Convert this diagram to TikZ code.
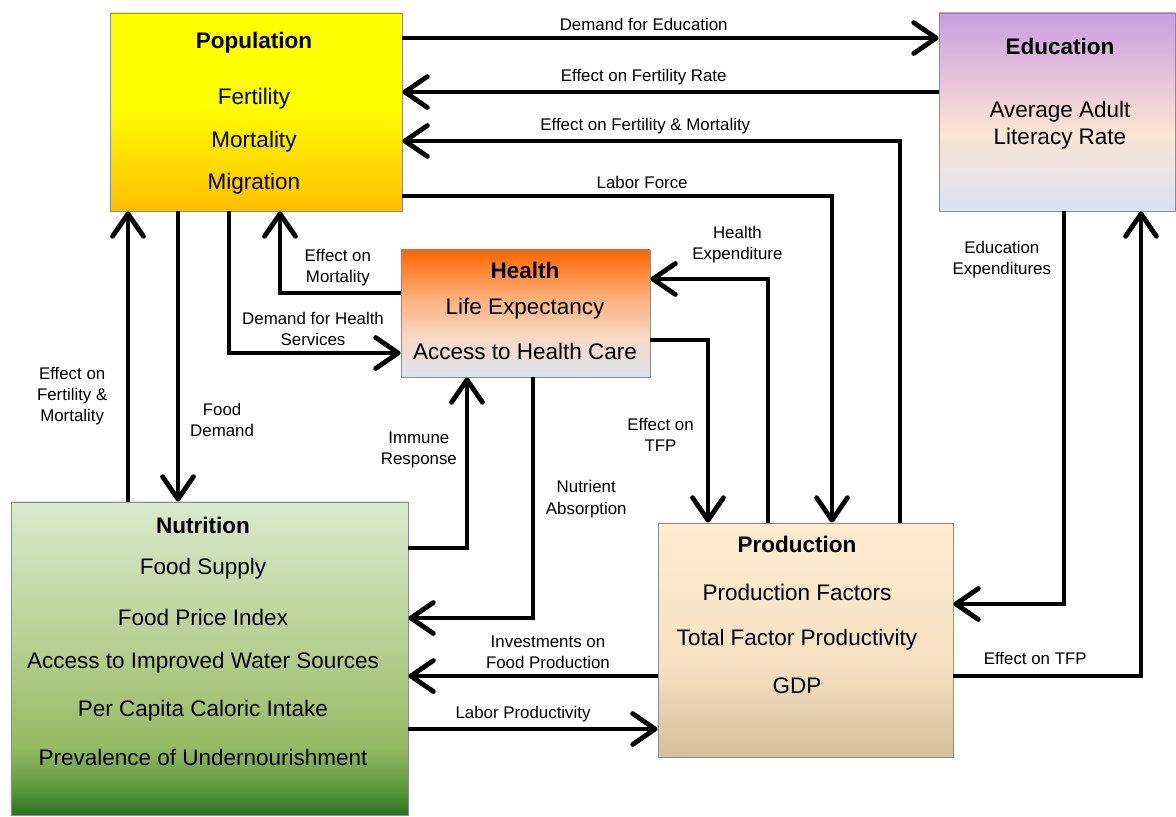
\documentclass[tikz,border=0pt]{standalone}
\usepackage{fontspec}
\setmainfont{Liberation Sans}
\usetikzlibrary{arrows.meta}

\definecolor{boxLine}{RGB}{140,140,140}
\definecolor{popTop}{RGB}{255,255,0}
\definecolor{popBot}{RGB}{255,190,0}
\definecolor{eduTop}{RGB}{200,158,224}
\definecolor{eduMid}{RGB}{232,196,218}
\definecolor{eduPeach}{RGB}{250,229,211}
\definecolor{eduBot}{RGB}{218,227,241}
\definecolor{hlthTop}{RGB}{255,102,0}
\definecolor{hlthMid}{RGB}{250,180,130}
\definecolor{hlthPeach}{RGB}{246,218,200}
\definecolor{hlthBot}{RGB}{220,228,240}
\definecolor{nutrTop}{RGB}{218,234,205}
\definecolor{nutrMid}{RGB}{185,210,150}
\definecolor{nutrLow}{RGB}{150,186,100}
\definecolor{nutrDeep}{RGB}{90,150,60}
\definecolor{nutrBot}{RGB}{38,115,28}
\definecolor{prodTop}{RGB}{253,236,208}
\definecolor{prodMid}{RGB}{244,226,194}
\definecolor{prodBot}{RGB}{212,192,156}

\pgfdeclareverticalshading{popshade}{100bp}{color(0bp)=(popBot); color(25bp)=(popBot); color(52bp)=(popTop); color(100bp)=(popTop)}
\pgfdeclareverticalshading{edushade}{100bp}{color(0bp)=(eduBot); color(25bp)=(eduBot); color(45bp)=(eduPeach); color(58bp)=(eduMid); color(75bp)=(eduTop); color(100bp)=(eduTop)}
\pgfdeclareverticalshading{hlthshade}{100bp}{color(0bp)=(hlthBot); color(25bp)=(hlthBot); color(40bp)=(hlthPeach); color(55bp)=(hlthMid); color(75bp)=(hlthTop); color(100bp)=(hlthTop)}
\pgfdeclareverticalshading{nutrshade}{100bp}{color(0bp)=(nutrBot); color(25bp)=(nutrBot); color(29bp)=(nutrDeep); color(36bp)=(nutrLow); color(54bp)=(nutrMid); color(75bp)=(nutrTop); color(100bp)=(nutrTop)}
\pgfdeclareverticalshading{prodshade}{100bp}{color(0bp)=(prodBot); color(25bp)=(prodBot); color(45bp)=(prodMid); color(75bp)=(prodTop); color(100bp)=(prodTop)}

\tikzset{
  box/.style    ={draw=boxLine, line width=0.6pt, inner sep=0pt, shade},
  boxtxt/.style ={anchor=north, align=center, inner sep=0pt, font=\fontsize{16}{30}\selectfont},
  arr/.style    ={-{Straight Barb[length=16pt, width=22pt, round]}, line width=3.4pt},
  lbl/.style    ={font=\fontsize{12}{15}\selectfont, align=center, inner sep=3.5pt},
}

\begin{document}
\begin{tikzpicture}[x=0.025cm, y=-0.025cm]
  \useasboundingbox (0,0) rectangle (1176,816);
  \clip (0,0) rectangle (1176,816);

  % sectors
  \node[box, shading=popshade,  minimum width=7.3cm,    minimum height=4.95cm]   (pop)  at (256,112) {};
  \node[box, shading=edushade,  minimum width=5.9125cm, minimum height=4.95cm]   (edu)  at (1057.25,112) {};
  \node[box, shading=hlthshade, minimum width=6.225cm,  minimum height=3.175cm]  (hlth) at (525.5,313.5) {};
  \node[box, shading=nutrshade, minimum width=9.925cm,  minimum height=7.8375cm] (nutr) at (209.5,658.75) {};
  \node[box, shading=prodshade, minimum width=7.375cm,  minimum height=5.85cm]   (prod) at (805.5,640) {};

  \node[boxtxt] (pop-txt) at (254,32)
    {\textbf{Population}\\[10pt] Fertility\\ Mortality\\ Migration};
  \node[boxtxt, font=\fontsize{16}{19.5}\selectfont] (edu-txt) at (1060,38)
    {\textbf{Education}\\[25pt] Average Adult\\ Literacy Rate};
  \node[boxtxt, font=\fontsize{16}{25.5}\selectfont] (hlth-txt) at (525,262)
    {\textbf{Health}\\ Life Expectancy\\[6.5pt] Access to Health Care};
  \node[boxtxt, font=\fontsize{16}{29}\selectfont] (nutr-txt) at (203,517)
    {\textbf{Nutrition}\\ Food Supply\\[7pt] Food Price Index\\[2pt] Access to Improved Water Sources\\[5pt]
     Per Capita Caloric Intake\\[6pt] Prevalence of Undernourishment};
  \node[boxtxt, font=\fontsize{16}{32}\selectfont] (prod-txt) at (797,536)
    {\textbf{Production}\\[2pt] Production Factors\\ Total Factor Productivity\\[2pt] GDP};

  % top lanes
  \draw[arr] (pop.east |- 0,38) -- node[lbl,above,pos=0.45]{Demand for Education} (edu.west |- 0,38);
  \draw[arr] (edu.west |- 0,92) -- node[lbl,above,pos=0.55]{Effect on Fertility Rate} (pop.east |- 0,92);
  \draw[arr] (prod.north -| 900,0) |- node[lbl,above,pos=0.756]{Effect on Fertility \& Mortality} (pop.east |- 0,141);
  \draw[arr] (pop.east |- 0,196) -| node[lbl,above,pos=0.279]{Labor Force} (prod.north -| 832,0);

  % population <-> health, nutrition
  \draw[arr] (hlth.west |- 0,293) -| node[lbl,above,pos=0.26]{Effect on\\Mortality} (pop.south -| 280,0);
  \draw[arr] (pop.south -| 229,0) |- node[lbl,above,pos=0.745]{Demand for Health\\Services} (hlth.west |- 0,353);
  \draw[arr] (nutr.north -| 128,0) -- node[lbl,left,pos=0.364,xshift=-9.5pt]{Effect on\\Fertility \&\\Mortality} (pop.south -| 128,0);
  \draw[arr] (pop.south -| 178,0) -- node[lbl,right,pos=0.72,xshift=3.5pt]{Food\\Demand} (nutr.north -| 178,0);

  % health <-> nutrition, production
  \draw[arr] (nutr.east |- 0,548) -| node[lbl,left,pos=0.787,xshift=-2pt]{Immune\\Response} (hlth.south -| 467,0);
  \draw[arr] (hlth.south -| 533,0) |- node[lbl,right,pos=0.253,xshift=4pt]{Nutrient\\Absorption} (nutr.east |- 0,618);
  \draw[arr] (prod.north -| 768,0) |- node[lbl,above,pos=0.63,yshift=6pt]{Health\\Expenditure} (hlth.east |- 0,279);
  \draw[arr] (hlth.east |- 0,340) -| node[lbl,left,pos=0.76,xshift=-5pt]{Effect on\\TFP} (prod.north -| 708,0);

  % nutrition <-> production
  \draw[arr] (prod.west |- 0,676) -- node[lbl,above,pos=0.44]{Investments on\\Food Production} (nutr.east |- 0,676);
  \draw[arr] (nutr.east |- 0,729) -- node[lbl,above,pos=0.46]{Labor Productivity} (prod.west |- 0,729);

  % education <-> production
  \draw[arr] (edu.south -| 1064,0) |- node[lbl,left,pos=0.061,xshift=-4pt]{Education\\Expenditures} (prod.east |- 0,604);
  \draw[arr] (prod.east |- 0,676) -| node[lbl,above,pos=0.218,yshift=3pt]{Effect on TFP} (edu.south -| 1141,0);
\end{tikzpicture}
\end{document}
